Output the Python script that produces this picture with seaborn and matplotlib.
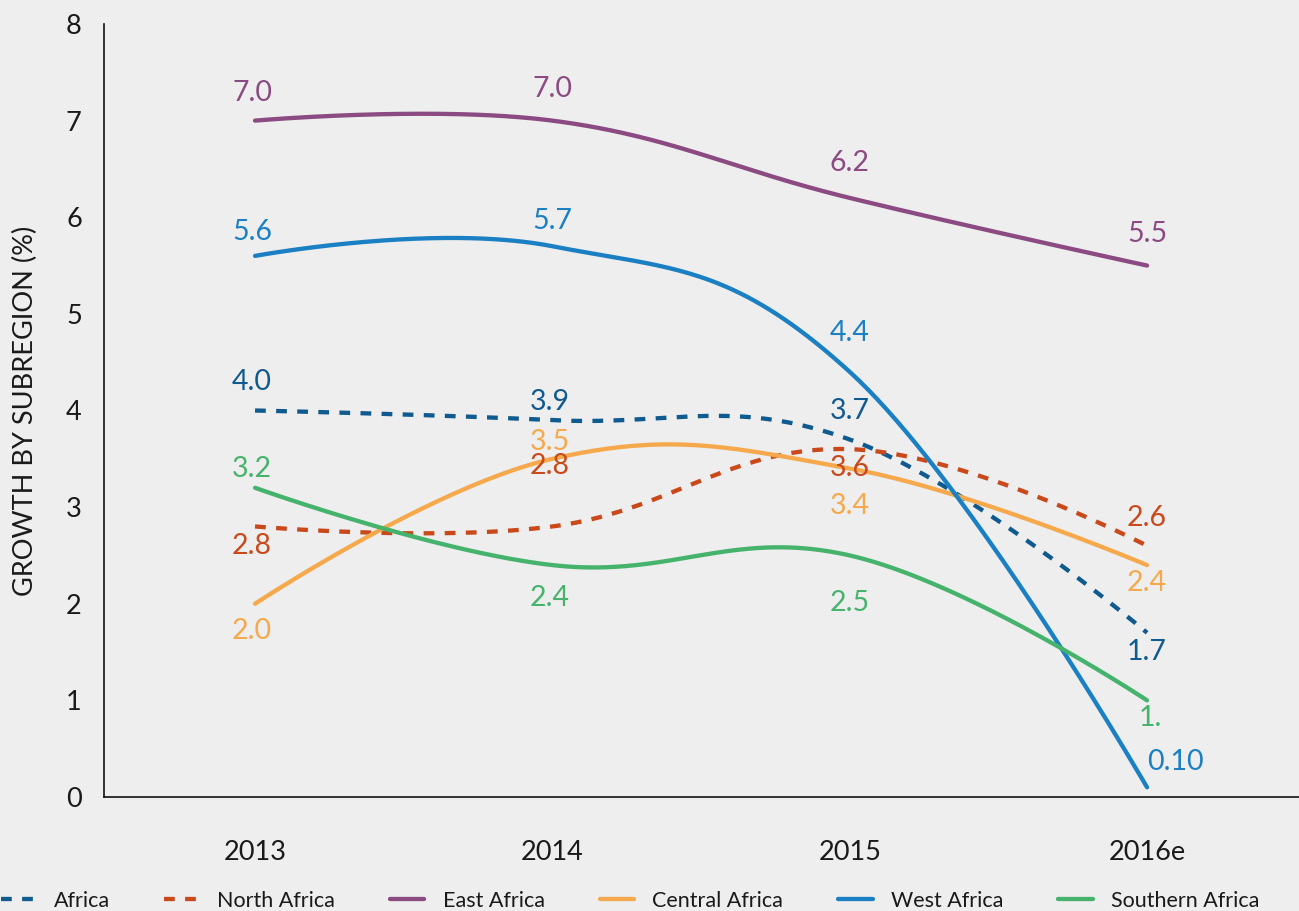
import numpy as np
import pandas as pd
import matplotlib
matplotlib.use('agg')
import matplotlib.pyplot as plt
import seaborn as sns

# values
years = ['2013', '2014', '2015', '2016e']
series_names = ['Africa', 'North Africa', 'East Africa', 'Central Africa', 'West Africa', 'Southern Africa']
africa = [4.0, 3.9, 3.7, 1.7]
north_africa = [2.8, 2.8, 3.6, 2.6]
east_africa = [7.0, 7.0, 6.2, 5.5]
central_africa = [2.0, 3.5, 3.4, 2.4]
west_africa = [5.6, 5.7, 4.4, 0.1]
southern_africa = [3.2, 2.4, 2.5, 1.0]

# value labels as printed
africa_labels = ['4.0', '3.9', '3.7', '1.7']
north_africa_labels = ['2.8', '2.8', '3.6', '2.6']
east_africa_labels = ['7.0', '7.0', '6.2', '5.5']
central_africa_labels = ['2.0', '3.5', '3.4', '2.4']
west_africa_labels = ['5.6', '5.7', '4.4', '0.10']
southern_africa_labels = ['3.2', '2.4', '2.5', '1.']

values = [africa, north_africa, east_africa, central_africa, west_africa, southern_africa]
labels = [africa_labels, north_africa_labels, east_africa_labels,
          central_africa_labels, west_africa_labels, southern_africa_labels]

# style
colors = ['#0f5a8e', '#c9491b', '#8b4a82', '#f6a94c', '#1a80c3', '#46b36d']
dashed = [True, True, False, False, False, False]
# label offsets in pixels (dx, dy), positive dy = up
label_offsets = [
    [(-3, 28), (-3, 18), (0, 28), (0, -19)],
    [(-3, -20), (-3, 60), (0, -19), (0, 28)],
    [(-3, 28), (0, 32), (0, 35), (0, 32)],
    [(-3, -27), (-3, 17), (0, -38), (0, -18)],
    [(-3, 24), (0, 25), (0, 39), (28, 25)],
    [(-3, 19), (-3, -33), (0, -48), (3, -18)],
]


def spline(ys, n=80):
    # smooth curve through the points (bezier, like a charting "spline" series)
    xs = np.arange(len(ys), dtype=float)
    ys = np.asarray(ys, dtype=float)
    k = len(ys)
    lc = np.zeros((k, 2))
    rc = np.zeros((k, 2))
    for i in range(k):
        px, py = xs[i], ys[i]
        if i == 0 or i == k - 1:
            lc[i] = rc[i] = (px, py)
            continue
        lx = (1.5 * px + xs[i - 1]) / 2.5
        ly = (1.5 * py + ys[i - 1]) / 2.5
        rx = (1.5 * px + xs[i + 1]) / 2.5
        ry = (1.5 * py + ys[i + 1]) / 2.5
        corr = (ry - ly) * (rx - px) / (rx - lx) + py - ry
        lc[i] = (lx, ly + corr)
        rc[i] = (rx, ry + corr)
    t = np.linspace(0, 1, n)[1:]
    out_x, out_y = [xs[0]], [ys[0]]
    for i in range(1, k):
        p0 = np.array([xs[i - 1], ys[i - 1]])
        p1 = rc[i - 1]
        p2 = lc[i]
        p3 = np.array([xs[i], ys[i]])
        for j in range(2):
            b = ((1 - t) ** 3 * p0[j] + 3 * (1 - t) ** 2 * t * p1[j]
                 + 3 * (1 - t) * t ** 2 * p2[j] + t ** 3 * p3[j])
            (out_x if j == 0 else out_y).extend(b)
    return np.array(out_x), np.array(out_y)


sns.set_theme(style='white', rc={'axes.facecolor': '#eeeeee', 'figure.facecolor': '#eeeeee'})
plt.rcParams['font.family'] = ['Lato', 'DejaVu Sans']

fig = plt.figure(figsize=(12.99, 9.11), dpi=100)
ax = fig.add_axes([104 / 1299, 114 / 911, 1 - 104 / 1299, (797 - 24) / 911])

for name, vals, col, dsh in zip(series_names, values, colors, dashed):
    sx, sy = spline(vals)
    df = pd.DataFrame({'x': sx, 'y': sy})
    sns.lineplot(data=df, x='x', y='y', sort=False, estimator=None, ax=ax,
                 color=col, linewidth=3.1, label=name,
                 linestyle=(0, (2.5, 2.4)) if dsh else '-')

for vals, labs, col, offs in zip(values, labels, colors, label_offsets):
    for i, (v, lab) in enumerate(zip(vals, labs)):
        ax.annotate(lab, (i, v), xytext=offs[i], textcoords='offset pixels',
                    ha='center', va='center', color=col, fontsize=20.5)

ax.set_xlim(-0.508, 3.511)
ax.set_ylim(0, 8)
ax.set_xticks(range(len(years)))
ax.set_xticklabels(years)
ax.set_yticks(range(0, 9))
ax.tick_params(axis='x', length=0, pad=31, labelsize=19.5, colors='#1a1a1a')
ax.tick_params(axis='y', length=0, pad=16, labelsize=19.5, colors='#1a1a1a')
ax.set_xlabel('')
ax.set_ylabel('GROWTH BY SUBREGION (%)', fontsize=19.5, color='#1a1a1a', labelpad=20)
for s in ['top', 'right']:
    ax.spines[s].set_visible(False)
for s in ['left', 'bottom']:
    ax.spines[s].set_color('#111111')
    ax.spines[s].set_linewidth(1.2)

handles, names = ax.get_legend_handles_labels()
ax.get_legend().remove()
fig.legend(handles, names, loc='center', bbox_to_anchor=(630 / 1299, 1 - 901 / 911),
           ncol=6, frameon=False, fontsize=15.5, handlelength=1.6, handletextpad=0.85,
           columnspacing=2.55, labelcolor='#1a1a1a')

fig.savefig('out.png', dpi=100, facecolor=fig.get_facecolor())
